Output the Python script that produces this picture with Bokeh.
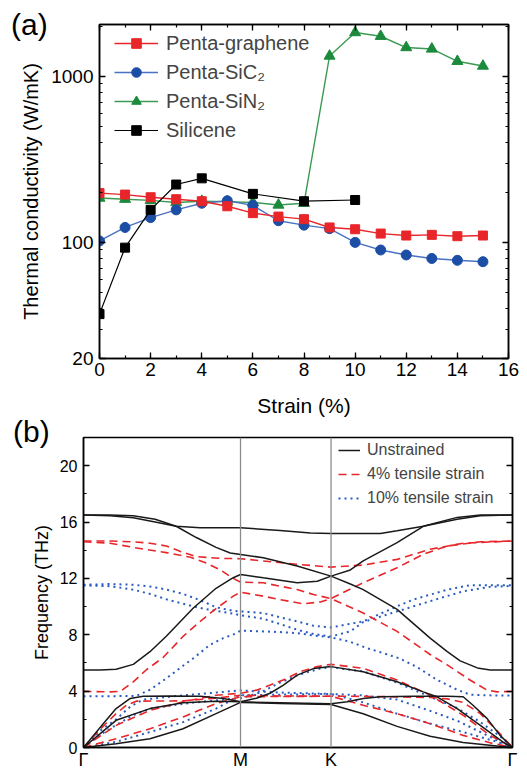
from bokeh.plotting import figure
from bokeh.models import (FixedTicker, SingleIntervalTicker, LinearAxis, Legend,
                          LegendItem, Span, Div)
from bokeh.embed import file_html
from bokeh.resources import INLINE

# ---------------- panel (a) data ----------------
strain = [0, 1, 2, 3, 4, 5, 6, 7, 8, 9, 10, 11, 12, 13, 14, 15]
penta_graphene = [198, 194, 187, 182, 177, 165, 150, 143, 138, 123, 120, 113, 110, 111, 109, 110]
penta_sic2 = [102, 123, 141, 157, 172, 178, 167, 135, 127, 121, 100, 90, 84, 80, 78, 76.5]
penta_sin2 = [185, 182, 179, 174, 177, 176, 174, 168, 172, 1325, 1834, 1742, 1490, 1461, 1231, 1153]
silicene_strain = [0, 1, 2, 3, 4, 6, 8, 10]
silicene = [37, 93, 157, 223, 243, 196, 177, 180]

# ---------------- panel (b) data ----------------
# k-path coordinate (0 = Gamma, 0.366 = M, 0.577 = K, 1 = Gamma), frequency in THz
kpath_ticks = [0, 0.366, 0.577, 1]
kpath_labels = ["Γ", "M", "K", "Γ"]

unstrained_k = [
    [0, 0.062, 0.116, 0.167, 0.216, 0.272, 0.366, 0.458, 0.529, 0.577, 0.692, 0.731, 0.792, 0.871, 0.925, 1],
    [0, 0.062, 0.116, 0.167, 0.216, 0.263, 0.309, 0.342, 0.366, 0.419, 0.498, 0.577, 0.622, 0.652, 0.731, 0.808, 0.848, 0.878, 0.918, 0.948, 1],
    [0, 0.039, 0.076, 0.116, 0.155, 0.193, 0.256, 0.309, 0.349, 0.366, 0.419, 0.498, 0.545, 0.577, 0.622, 0.652, 0.731, 0.792, 0.871, 0.925, 1],
    [0, 0.046, 0.076, 0.109, 0.139, 0.202, 0.272, 0.326, 0.366, 0.403, 0.435, 0.466, 0.498, 0.536, 0.577, 0.652, 0.731, 0.792, 0.824, 0.871, 0.925, 0.978, 1],
    [0, 0.039, 0.076, 0.155, 0.232, 0.309, 0.366, 0.458, 0.577, 0.615, 0.652, 0.692, 0.769, 0.848, 0.885, 0.908, 0.941, 0.971, 1],
    [0, 0.076, 0.155, 0.232, 0.309, 0.366, 0.458, 0.577, 0.652, 0.731, 0.808, 0.885, 0.964, 1],
]
unstrained_f = [
    [16.5, 16.45, 16.3, 16.0, 15.7, 15.6, 15.6, 15.4, 15.22, 15.18, 15.18, 15.38, 15.7, 16.33, 16.5, 16.5],
    [16.5, 16.5, 16.45, 16.2, 15.7, 14.9, 14.2, 13.8, 13.7, 13.47, 12.88, 12.16, 11.6, 11.2, 9.8, 7.76, 6.8, 6.15, 5.65, 5.5, 5.5],
    [5.5, 5.5, 5.55, 5.9, 6.8, 7.9, 9.9, 11.3, 12.05, 12.28, 12.04, 11.69, 11.8, 12.16, 12.6, 13.24, 14.54, 15.7, 16.2, 16.45, 16.5],
    [0, 1.69, 2.76, 3.48, 3.64, 3.66, 3.64, 3.48, 3.24, 3.5, 3.85, 4.43, 5.14, 5.6, 5.74, 5.38, 4.67, 3.95, 3.6, 2.76, 1.57, 0.38, 0],
    [0, 0.98, 1.93, 2.76, 3.17, 3.29, 3.24, 3.18, 3.1, 3.24, 3.48, 3.6, 3.64, 3.64, 3.6, 3.0, 2.05, 0.86, 0],
    [0, 0.26, 0.62, 1.33, 2.4, 3.2, 3.12, 3.05, 2.4, 1.5, 0.8, 0.35, 0.1, 0],
]

strain4_k = [
    [0, 0.062, 0.116, 0.155, 0.193, 0.232, 0.263, 0.319, 0.366, 0.419, 0.498, 0.577, 0.652, 0.731, 0.808, 0.885, 1],
    [0, 0.062, 0.116, 0.193, 0.249, 0.286, 0.319, 0.349, 0.366, 0.419, 0.458, 0.498, 0.536, 0.577, 0.652, 0.731, 0.808, 0.848, 0.901, 0.941, 0.964, 1],
    [0, 0.062, 0.086, 0.116, 0.146, 0.186, 0.232, 0.272, 0.309, 0.349, 0.366, 0.419, 0.458, 0.512, 0.552, 0.577, 0.652, 0.731, 0.792, 0.848, 0.925, 1],
    [0, 0.039, 0.076, 0.1, 0.123, 0.232, 0.309, 0.366, 0.458, 0.577, 0.692, 0.808, 0.848, 0.885, 0.925, 0.964, 1],
    [0, 0.076, 0.155, 0.232, 0.309, 0.366, 0.403, 0.435, 0.47, 0.505, 0.545, 0.577, 0.652, 0.731, 0.808, 0.885, 0.948, 1],
    [0, 0.076, 0.155, 0.232, 0.309, 0.366, 0.458, 0.577, 0.652, 0.731, 0.808, 0.885, 0.948, 1],
]
strain4_f = [
    [14.65, 14.65, 14.6, 14.5, 14.3, 13.85, 13.55, 13.42, 13.4, 13.24, 13.0, 12.8, 12.95, 13.35, 14.07, 14.5, 14.65],
    [14.6, 14.5, 14.2, 13.83, 13.5, 13.1, 12.6, 12.0, 11.74, 11.69, 11.45, 11.21, 10.86, 10.57, 9.54, 8.24, 6.6, 5.86, 4.79, 4.07, 3.95, 3.98],
    [3.98, 3.95, 3.98, 4.66, 5.5, 6.4, 7.88, 8.95, 9.86, 10.74, 11.02, 10.74, 10.5, 10.19, 10.33, 10.57, 11.69, 12.76, 13.71, 14.3, 14.6, 14.65],
    [0, 1.3, 2.4, 3.0, 3.29, 3.31, 3.5, 3.71, 3.66, 3.64, 3.62, 3.55, 3.45, 3.2, 2.4, 1.2, 0],
    [0, 1.57, 2.64, 3.24, 3.71, 3.85, 4.07, 4.43, 4.85, 5.38, 5.74, 5.9, 5.62, 4.79, 3.71, 2.29, 0.86, 0],
    [0, 0.62, 1.33, 2.17, 3.12, 3.6, 3.62, 3.64, 3.0, 2.4, 1.69, 0.86, 0.33, 0],
]

strain10_k = [
    [0, 0.062, 0.116, 0.155, 0.195, 0.232, 0.272, 0.309, 0.349, 0.366, 0.419, 0.458, 0.498, 0.536, 0.577, 0.652, 0.731, 0.769, 0.848, 0.901, 1],
    [0, 0.062, 0.116, 0.155, 0.195, 0.232, 0.272, 0.309, 0.349, 0.366, 0.419, 0.458, 0.498, 0.536, 0.577, 0.622, 0.652, 0.731, 0.808, 0.885, 0.948, 1],
    [0, 0.062, 0.123, 0.155, 0.193, 0.232, 0.256, 0.295, 0.326, 0.356, 0.366, 0.419, 0.458, 0.498, 0.536, 0.577, 0.622, 0.661, 0.699, 0.738, 0.778, 0.824, 0.871, 0.901, 0.948, 1],
    [0, 0.039, 0.076, 0.116, 0.155, 0.232, 0.309, 0.366, 0.412, 0.458, 0.505, 0.552, 0.577, 0.652, 0.731, 0.808, 0.871, 0.925, 0.971, 1],
    [0, 0.039, 0.076, 0.109, 0.139, 0.232, 0.309, 0.366, 0.458, 0.577, 0.652, 0.731, 0.808, 0.871, 0.925, 0.971, 1],
    [0, 0.076, 0.155, 0.232, 0.309, 0.366, 0.458, 0.577, 0.652, 0.731, 0.808, 0.885, 0.964, 1],
]
strain10_f = [
    [11.55, 11.6, 11.55, 11.43, 11.2, 10.9, 10.45, 9.95, 9.7, 9.66, 9.54, 9.24, 8.95, 8.64, 8.52, 8.95, 10.02, 10.5, 11.2, 11.52, 11.52],
    [11.5, 11.45, 11.2, 10.9, 10.5, 10.2, 9.9, 9.7, 9.5, 9.38, 9.14, 8.76, 8.36, 8.05, 7.88, 8.24, 8.9, 9.66, 10.38, 11.09, 11.4, 11.47],
    [3.64, 3.64, 3.66, 4.1, 4.9, 5.8, 6.33, 7.29, 7.76, 8.1, 8.29, 8.24, 8.19, 8.12, 7.95, 7.82, 7.5, 7.05, 6.7, 6.3, 5.7, 4.8, 4.1, 3.75, 3.7, 3.68],
    [0, 0.9, 1.6, 2.3, 2.75, 3.1, 3.35, 3.5, 3.9, 4.6, 5.2, 5.6, 5.7, 5.4, 4.6, 3.6, 2.8, 1.8, 0.8, 0],
    [0, 1.2, 2.0, 2.9, 3.4, 3.7, 3.9, 4.05, 3.9, 3.8, 3.7, 3.4, 2.6, 1.9, 1.1, 0.4, 0],
    [0, 0.4, 1.1, 1.8, 2.76, 3.7, 3.75, 3.8, 3.2, 2.4, 1.7, 1.1, 0.4, 0],
]

FONT = "Liberation Sans"
RED = "#e8262a"
BLUE_L = "#4a72c4"
BLUE_M = "#1c4ea6"
GREEN_L = "#3c9a52"
GREEN_M = "#1c8a3c"


def style_axis(ax, label_size, tick_in=6, minor_in=3):
    ax.axis_line_width = 1.5
    ax.axis_line_color = "black"
    ax.major_tick_in = tick_in
    ax.major_tick_out = 0
    ax.minor_tick_in = minor_in
    ax.minor_tick_out = 0
    ax.major_tick_line_width = 1.3
    ax.minor_tick_line_width = 1.2
    ax.major_label_text_font = FONT
    ax.major_label_text_font_size = label_size
    ax.major_label_text_color = "black"
    ax.axis_label_text_font = FONT
    ax.axis_label_text_font_style = "normal"
    ax.axis_label_text_color = "black"


def mirror_axis(ticker):
    ax = LinearAxis(ticker=ticker)
    style_axis(ax, "1px")
    ax.major_label_text_color = None
    ax.major_label_standoff = 0
    return ax


# ================= panel (a) =================
pa = figure(width=527, height=422, x_range=(0, 16), y_range=(20, 2050),
            y_axis_type="log", output_backend="svg", toolbar_location=None,
            min_border_left=99, min_border_right=19, min_border_top=24,
            min_border_bottom=64)
pa.grid.visible = False
pa.outline_line_color = "black"
pa.outline_line_width = 1.5

y_major = [20, 100, 1000]
y_minor = [30, 40, 50, 60, 70, 80, 90, 200, 300, 400, 500, 600, 700, 800, 900, 2000]

pa.xaxis.ticker = SingleIntervalTicker(interval=2, num_minor_ticks=2)
pa.yaxis.ticker = FixedTicker(ticks=y_major, minor_ticks=y_minor)
pa.yaxis.major_label_overrides = {t: str(t) for t in y_major}
for ax in pa.xaxis + pa.yaxis:
    style_axis(ax, "19px")
pa.xaxis.axis_label = "Strain (%)"
pa.yaxis.axis_label = "Thermal conductivity (W/mK)"
pa.xaxis.axis_label_text_font_size = "21px"
pa.yaxis.axis_label_text_font_size = "20px"
pa.xaxis.major_label_standoff = 4
pa.xaxis.axis_label_standoff = 15
pa.yaxis.major_label_standoff = 6
pa.yaxis.axis_label_standoff = 6

pa.add_layout(mirror_axis(SingleIntervalTicker(interval=2, num_minor_ticks=2)), "above")
pa.add_layout(mirror_axis(FixedTicker(ticks=y_major, minor_ticks=y_minor)), "right")

l_sin2 = pa.line(strain, penta_sin2, line_color=GREEN_L, line_width=1.4)
s_sin2 = pa.scatter(strain, penta_sin2, marker="triangle", size=11,
                    fill_color=GREEN_M, line_color=GREEN_M)
l_sic2 = pa.line(strain, penta_sic2, line_color=BLUE_L, line_width=1.4)
s_sic2 = pa.scatter(strain, penta_sic2, marker="circle", size=10,
                    fill_color=BLUE_M, line_color=BLUE_M)
l_pg = pa.line(strain, penta_graphene, line_color=RED, line_width=1.4)
s_pg = pa.scatter(strain, penta_graphene, marker="square", size=9,
                  fill_color=RED, line_color=RED)
l_si = pa.line(silicene_strain, silicene, line_color="black", line_width=1.2)
s_si = pa.scatter(silicene_strain, silicene, marker="square", size=9,
                  fill_color="black", line_color="black")

leg_a = Legend(items=[
    LegendItem(label="Penta-graphene", renderers=[l_pg, s_pg]),
    LegendItem(label="Penta-SiC₂", renderers=[l_sic2, s_sic2]),
    LegendItem(label="Penta-SiN₂", renderers=[l_sin2, s_sin2]),
    LegendItem(label="Silicene", renderers=[l_si, s_si]),
], location=(11, 212))
leg_a.label_text_font = FONT
leg_a.label_text_font_size = "20px"
leg_a.glyph_width = 44
leg_a.glyph_height = 24
leg_a.label_height = 24
leg_a.label_standoff = 8
leg_a.spacing = 5
leg_a.padding = 4
leg_a.margin = 0
leg_a.border_line_alpha = 0
leg_a.background_fill_alpha = 0
pa.add_layout(leg_a)

# ================= panel (b) =================
pb = figure(width=527, height=353, x_range=(0, 1), y_range=(0, 22),
            output_backend="svg", toolbar_location=None,
            min_border_left=83, min_border_right=15, min_border_top=15,
            min_border_bottom=28)
pb.grid.visible = False
pb.outline_line_color = "black"
pb.outline_line_width = 1.5

pb.yaxis.ticker = SingleIntervalTicker(interval=4, num_minor_ticks=2)
pb.xaxis.ticker = FixedTicker(ticks=kpath_ticks)
pb.xaxis.major_label_overrides = {t: s for t, s in zip(kpath_ticks, kpath_labels)}
for ax in pb.xaxis + pb.yaxis:
    style_axis(ax, "16px")
pb.xaxis.major_tick_in = 0
pb.xaxis.minor_tick_in = 0
pb.xaxis.major_label_text_font_size = "18px"
pb.xaxis.major_label_standoff = 2
pb.yaxis.axis_label = "Frequency (THz)"
pb.yaxis.axis_label_text_font_size = "18px"
pb.yaxis.major_label_standoff = 6
pb.yaxis.axis_label_standoff = 5

pb.add_layout(mirror_axis(SingleIntervalTicker(interval=4, num_minor_ticks=2)), "right")

for loc in kpath_ticks[1:3]:
    pb.add_layout(Span(location=loc, dimension="height", line_color="#8c8c8c",
                       line_width=1.3))

r10 = None
for k, f in zip(strain10_k, strain10_f):
    r = pb.line(k, f, line_color="#2a5cbf", line_width=2.0, line_dash="2 4")
    r10 = r10 or r
r4 = None
for k, f in zip(strain4_k, strain4_f):
    r = pb.line(k, f, line_color=RED, line_width=1.6, line_dash="8 5")
    r4 = r4 or r
r0 = None
for k, f in zip(unstrained_k, unstrained_f):
    r = pb.line(k, f, line_color="#1a1a1a", line_width=1.5)
    r0 = r0 or r

leg_b = Legend(items=[
    LegendItem(label="Unstrained", renderers=[r0]),
    LegendItem(label="4% tensile strain", renderers=[r4]),
    LegendItem(label="10% tensile strain", renderers=[r10]),
], location=(252, 236))
leg_b.label_text_font = FONT
leg_b.label_text_font_size = "16px"
leg_b.glyph_width = 22
leg_b.glyph_height = 20
leg_b.label_height = 20
leg_b.label_standoff = 7
leg_b.spacing = 4
leg_b.padding = 3
leg_b.margin = 0
leg_b.border_line_alpha = 0
leg_b.background_fill_alpha = 0
pb.add_layout(leg_b)

# ---------------- panel letters ----------------
def panel_letter(text, left, top):
    css = (":host { position: absolute !important; left: %dpx !important; "
           "top: %dpx !important; margin: 0 !important; }" % (left, top))
    html = ("<span style=\"font-family: 'Liberation Sans'; font-size: 30px; "
            "color: black; line-height: normal;\">%s</span>" % text)
    return Div(text=html, stylesheets=[css])


div_a = panel_letter("(a)", 11, 8)
div_b = panel_letter("(b)", 13, 415)

open("out.html", "w").write(file_html([pa, pb, div_a, div_b], INLINE))
